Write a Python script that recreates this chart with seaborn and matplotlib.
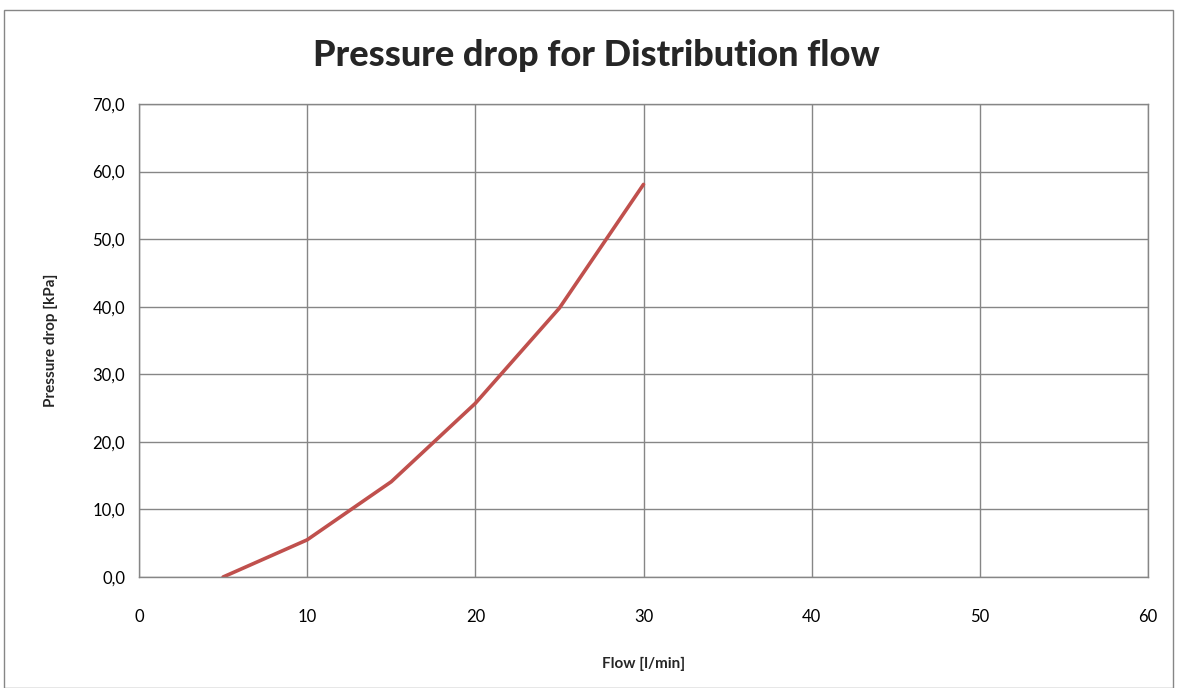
import matplotlib
matplotlib.use("Agg")
import matplotlib.pyplot as plt
import seaborn as sns
import pandas as pd
from matplotlib.ticker import FuncFormatter, MultipleLocator
from matplotlib.patches import Rectangle

flow = [5, 10, 15, 20, 25, 30]
pressure_drop = [0.0, 5.5, 14.1, 25.7, 39.8, 58.1]

title = "Pressure drop for Distribution flow"
xlabel = "Flow [l/min]"
ylabel = "Pressure drop [kPa]"

sns.set_style("white")
plt.rcParams['font.family'] = ['Lato', 'DejaVu Sans']

fig = plt.figure(figsize=(11.77, 6.88), dpi=100)
ax = fig.add_axes([139/1177, 1 - 577/688, (1148-139)/1177, (577-104)/688])

df = pd.DataFrame({"flow": flow, "dp": pressure_drop})
sns.lineplot(data=df, x="flow", y="dp", ax=ax, color="#C0504D", linewidth=2.6)

ax.set_xlim(0, 60)
ax.set_ylim(0, 70)
ax.xaxis.set_major_locator(MultipleLocator(10))
ax.yaxis.set_major_locator(MultipleLocator(10))
ax.yaxis.set_major_formatter(FuncFormatter(lambda v, p: f"{v:.1f}".replace(".", ",")))
ax.grid(True, color="#868686", linewidth=1.0)
ax.set_axisbelow(True)
for s in ax.spines.values():
    s.set_color("#868686")
    s.set_linewidth(1.0)
ax.tick_params(axis="both", direction="out", length=5, color="#868686", labelsize=12, labelcolor="black")
ax.tick_params(axis="x", pad=18)
ax.tick_params(axis="y", pad=5)

ax.set_xlabel(xlabel, fontsize=11, fontweight="bold", labelpad=23)
ax.set_ylabel(ylabel, fontsize=11, fontweight="bold", labelpad=25)
fig.text(596/1177, 1 - 55/688, title, ha="center", va="center", fontsize=26, fontweight="black")

fig.patches.append(Rectangle((4/1177, 0), 1 - 8/1177, 1 - 10/688, transform=fig.transFigure,
                             fill=False, edgecolor="#868686", linewidth=1.0))

fig.savefig("out.png", dpi=100)
